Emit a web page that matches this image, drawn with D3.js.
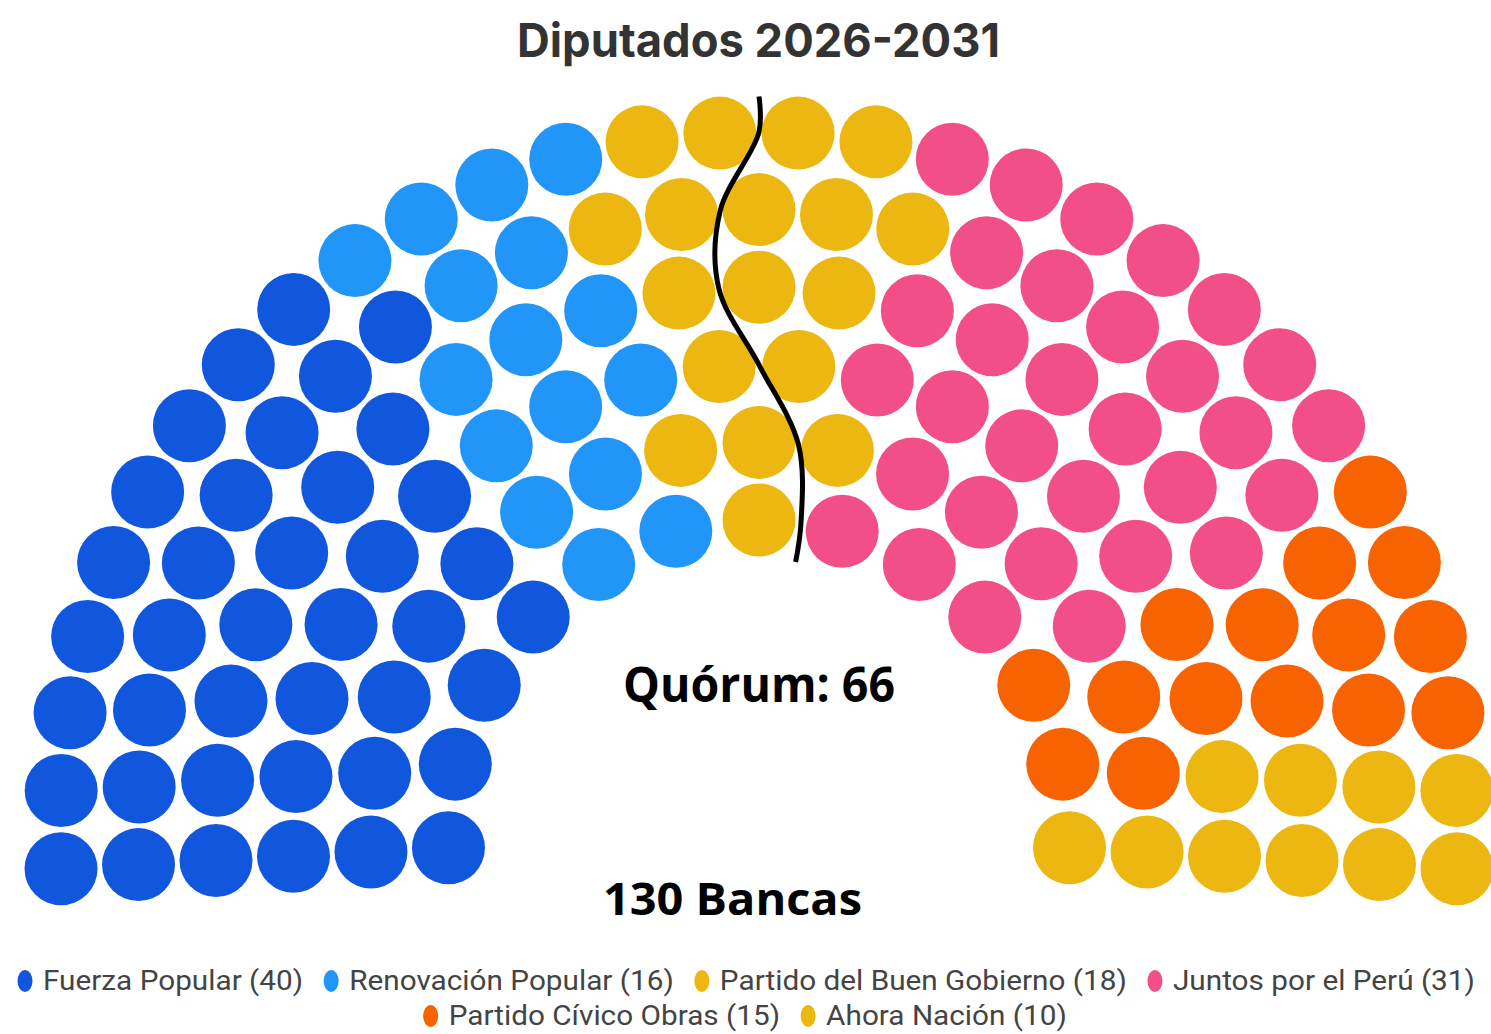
<!DOCTYPE html>
<html><head><meta charset="utf-8">
<script src="https://cdn.jsdelivr.net/npm/d3@7"></script>
<style>body{margin:0;background:#fff} svg{display:block}</style>
</head><body><svg id="c" width="1491" height="1034"></svg>
<script>
// ---- data ----
const parties = ["Fuerza Popular","Renovación Popular","Partido del Buen Gobierno","Juntos por el Perú","Partido Cívico Obras","Ahora Nación"];
const seats = [40,16,18,31,15,10];
const colors = ["#1157dd","#2196f8","#ecb711","#f24f89","#f76300","#ecb711"];
const title = "Diputados 2026-2031";
const quorumLabel = "Quórum: 66";
const totalLabel = "130 Bancas";
const legendLines = [[0,1,2,3],[4,5]];
const nRows = 6;

// ---- layout ----
const svg = d3.select("#c");
const cx = 759, cy = 831, rInner = 311, rOuter = 699, seatR = 36.5;
const overshoot = 3.1 * Math.PI / 180;
const total = d3.sum(seats);
const split = Math.floor(total / 2);

const rowRadius = d3.scaleLinear().domain([0, nRows - 1]).range([rInner, rOuter]);
const radii = d3.range(nRows).map(rowRadius);
const sumR = d3.sum(radii);
const quotas = radii.map(r => total * r / sumR);
const counts = quotas.map(Math.floor);
const rest = total - d3.sum(counts);
const order = d3.range(nRows).sort((a, b) => (quotas[b] - counts[b]) - (quotas[a] - counts[a]));
for (let k = 0; k < rest; k++) counts[order[k]]++;

const angle = d3.scaleLinear().domain([0, 1]).range([Math.PI + overshoot, -overshoot]);
const color = d3.scaleOrdinal().domain(d3.range(parties.length)).range(colors);

const all = [];
radii.forEach((r, ri) => {
  const n = counts[ri];
  for (let i = 0; i < n; i++) all.push({row: ri, r, t: i / (n - 1)});
});
all.sort((a, b) => (a.t - b.t) || (a.row - b.row));
const partyIdx = [];
seats.forEach((s, p) => { for (let k = 0; k < s; k++) partyIdx.push(p); });
all.forEach((d, k) => {
  d.p = partyIdx[k]; d.rank = k;
  const a = angle(d.t);
  d.x = cx + d.r * Math.cos(a);
  d.y = cy - d.r * Math.sin(a);
});

svg.append("g").selectAll("circle").data(all).join("circle")
  .attr("cx", d => d.x).attr("cy", d => d.y).attr("r", seatR)
  .attr("fill", d => color(d.p));

// quorum divider: boundary between first half and second half in each row
const bnd = radii.map((r, ri) => {
  const rowSeats = all.filter(d => d.row === ri);
  const tin = d3.max(rowSeats.filter(d => d.rank < split), d => d.t);
  const tout = d3.min(rowSeats.filter(d => d.rank >= split), d => d.t);
  return {r, t: (tin + tout) / 2};
});
const pts = [{r: rInner - seatR - 3, t: bnd[0].t}, ...bnd, {r: rOuter + seatR - 1, t: bnd[nRows - 1].t}].reverse();
svg.append("path")
  .attr("d", d3.line().x(d => cx + d.r * Math.cos(angle(d.t))).y(d => cy - d.r * Math.sin(angle(d.t)))
    .curve(d3.curveCatmullRom.alpha(0.5))(pts))
  .attr("fill", "none").attr("stroke", "#000").attr("stroke-width", 5).attr("stroke-linecap", "butt");

// ---- texts ----
function fit(sel, w) {
  const n = sel.node().getComputedTextLength();
  if (Math.abs(n - w) > 1) sel.attr("textLength", w).attr("lengthAdjust", "spacingAndGlyphs");
  return sel;
}
fit(svg.append("text").attr("x", 758.5).attr("y", 57).attr("text-anchor", "middle")
  .attr("font-family", "Inter, 'Noto Sans', sans-serif").attr("font-weight", 700).attr("font-size", 47)
  .attr("fill", "#333").text(title), 483);
fit(svg.append("text").attr("x", 759).attr("y", 702).attr("text-anchor", "middle")
  .attr("font-family", "'Open Sans', sans-serif").attr("font-weight", 700).attr("font-size", 48)
  .attr("fill", "#000").text(quorumLabel), 272);
fit(svg.append("text").attr("x", 732.5).attr("y", 915).attr("text-anchor", "middle")
  .attr("font-family", "'Open Sans', sans-serif").attr("font-weight", 700).attr("font-size", 45)
  .attr("fill", "#000").text(totalLabel), 259);

// ---- legend ----
const lgFont = 28, mRx = 7.5, mRy = 11, toText = 18, toNext = 28;
const lineY = [981, 1016];
const line1Start = 25, line1End = 1475, line2Center = 745;
const labels = parties.map((p, i) => `${p} (${seats[i]})`);
const tmp = svg.append("text").attr("font-family", "Roboto, 'Noto Sans', sans-serif").attr("font-size", lgFont);
const natW = labels.map(l => { tmp.text(l); return tmp.node().getComputedTextLength(); });
tmp.remove();
const items1 = legendLines[0];
const kx = (line1End - line1Start - items1.length * toText - (items1.length - 1) * toNext) / d3.sum(items1, p => natW[p]);
legendLines.forEach((items, li) => {
  const span = items.length * toText + (items.length - 1) * toNext + kx * d3.sum(items, p => natW[p]);
  let x = li === 0 ? line1Start : line2Center - (span + mRx) / 2 + mRx;
  const y = lineY[li];
  items.forEach(p => {
    svg.append("ellipse").attr("cx", x).attr("cy", y).attr("rx", mRx).attr("ry", mRy).attr("fill", colors[p]);
    svg.append("text").attr("transform", `translate(${x + toText},${y + 9}) scale(${kx},1)`)
      .attr("font-family", "Roboto, 'Noto Sans', sans-serif").attr("font-size", lgFont)
      .attr("fill", "#444").text(labels[p]);
    x += toText + kx * natW[p] + toNext;
  });
});
</script></body></html>
